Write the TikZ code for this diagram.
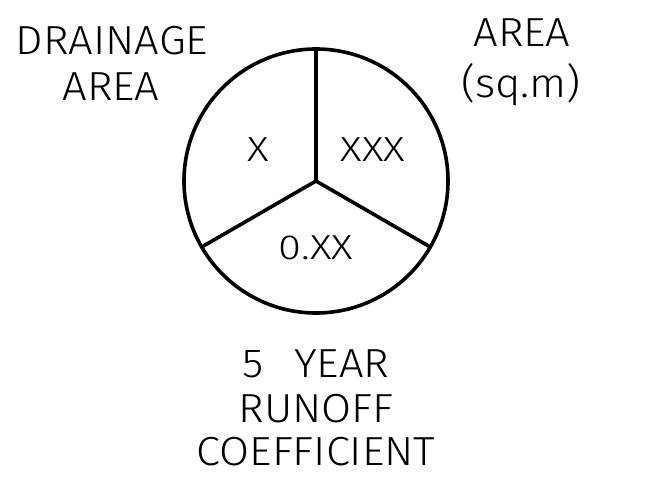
\documentclass[tikz,border=0pt]{standalone}
\usepackage{fontspec}
\setmainfont{Fira Sans Light}
\newfontfamily\outfont{Fira Sans Light}[FakeStretch=1.07]
\newfontfamily\infont{Fira Sans Light}[FakeStretch=1.2]
\usetikzlibrary{calc}
\begin{document}
\begin{tikzpicture}[x=1pt,y=-1pt,
  lbl/.style={anchor=base,inner sep=0pt,font=\outfont\fontsize{40.6}{44}\selectfont},
  inlbl/.style={anchor=base,inner sep=0pt,font=\infont\fontsize{34.8}{40}\selectfont},
  seg/.style={line width=3.6pt}]
\useasboundingbox (0,0) rectangle (648,487);
\coordinate (c) at (316,181);
\draw[seg] (c) circle[radius=132];
\coordinate (top) at ($(c)+(0,-132)$);
\coordinate (ll) at ($(c)+(-114.3,66)$);
\coordinate (lr) at ($(c)+(114.3,66)$);
\draw[seg] (c) -- (top);
\draw[seg] (c) -- (ll);
\draw[seg] (c) -- (lr);
\node[lbl] (d1) at (112,55) {DRAINAGE};
\node[lbl] (d2) at (111,100) {AREA};
\node[lbl] (a1) at (522,47) {AREA};
\node[lbl] (a2) at (521,97) {(sq.m)};
\node[inlbl] (x1) at (258,161) {X};
\node[inlbl] (x3) at (373,161) {XXX};
\node[inlbl] (x0) at (316,259) {0.XX};
\node[lbl] (b1) at (316,377) {5\hspace{0.75em}YEAR};
\node[lbl] (b2) at (316,422) {RUNOFF};
\node[lbl] (b3) at (316,465) {COEFFICIENT};
\end{tikzpicture}
\end{document}
